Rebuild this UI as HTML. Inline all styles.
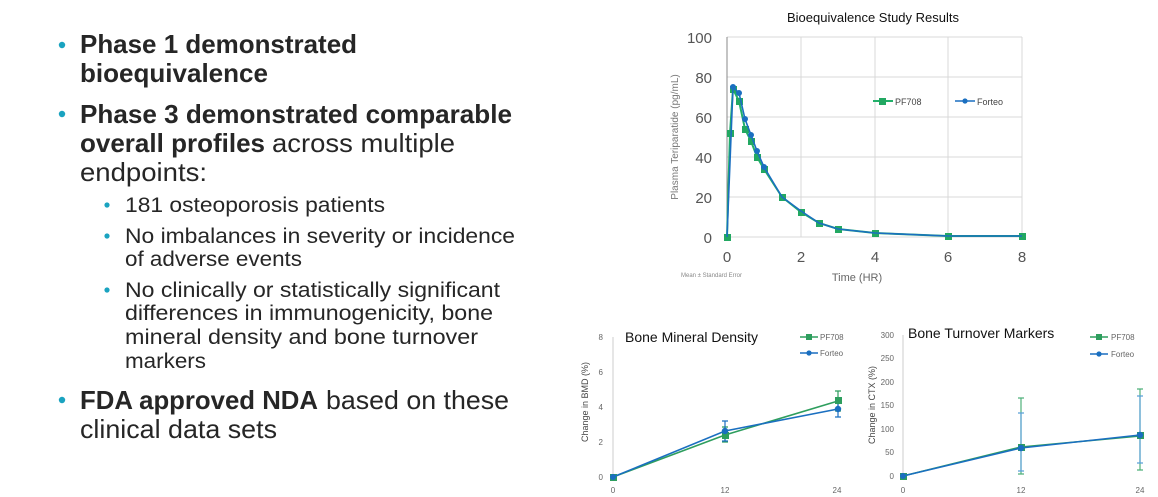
<!DOCTYPE html>
<html><head><meta charset="utf-8"><style>
html,body{margin:0;padding:0;background:#fff;}
svg{display:block;font-family:"Liberation Sans",sans-serif;}
</style></head><body>
<svg width="1158" height="497" viewBox="0 0 1158 497" xmlns="http://www.w3.org/2000/svg">
<g fill="#262626">
<g fill="#1aa3c0"><circle cx="62" cy="45" r="3.2"/><circle cx="62" cy="114" r="3.2"/><circle cx="62" cy="400" r="3.2"/>
<circle cx="107" cy="205" r="2.6"/><circle cx="107" cy="236" r="2.6"/><circle cx="107" cy="290" r="2.6"/></g>
<text x="80" y="53" font-size="26" font-weight="bold" textLength="277" lengthAdjust="spacingAndGlyphs">Phase 1 demonstrated</text>
<text x="80" y="82" font-size="26" font-weight="bold" textLength="188" lengthAdjust="spacingAndGlyphs">bioequivalence</text>
<text x="80" y="123" font-size="26" font-weight="bold" textLength="432" lengthAdjust="spacingAndGlyphs">Phase 3 demonstrated comparable</text>
<text x="80" y="152" font-size="26" font-weight="bold" textLength="185" lengthAdjust="spacingAndGlyphs">overall profiles</text>
<text x="272" y="152" font-size="26" textLength="183" lengthAdjust="spacingAndGlyphs">across multiple</text>
<text x="80" y="181" font-size="26" textLength="127" lengthAdjust="spacingAndGlyphs">endpoints:</text>
<text x="125" y="212" font-size="21" textLength="260" lengthAdjust="spacingAndGlyphs">181 osteoporosis patients</text>
<text x="125" y="243" font-size="21" textLength="390" lengthAdjust="spacingAndGlyphs">No imbalances in severity or incidence</text>
<text x="125" y="266" font-size="21" textLength="177" lengthAdjust="spacingAndGlyphs">of adverse events</text>
<text x="125" y="297" font-size="21" textLength="375" lengthAdjust="spacingAndGlyphs">No clinically or statistically significant</text>
<text x="125" y="320" font-size="21" textLength="368" lengthAdjust="spacingAndGlyphs">differences in immunogenicity, bone</text>
<text x="125" y="344" font-size="21" textLength="353" lengthAdjust="spacingAndGlyphs">mineral density and bone turnover</text>
<text x="125" y="368" font-size="21" textLength="81" lengthAdjust="spacingAndGlyphs">markers</text>
<text x="80" y="409" font-size="26" font-weight="bold" textLength="238" lengthAdjust="spacingAndGlyphs">FDA approved NDA</text>
<text x="326" y="409" font-size="26" textLength="183" lengthAdjust="spacingAndGlyphs">based on these</text>
<text x="80" y="438" font-size="26" textLength="197" lengthAdjust="spacingAndGlyphs">clinical data sets</text>
</g>

<!-- Top chart -->
<text x="873" y="22" font-size="13" fill="#111" text-anchor="middle">Bioequivalence Study Results</text>
<g stroke="#d9d9d9" stroke-width="1">
<line x1="727" y1="37" x2="1022" y2="37"/><line x1="727" y1="77" x2="1022" y2="77"/><line x1="727" y1="117" x2="1022" y2="117"/>
<line x1="727" y1="157" x2="1022" y2="157"/><line x1="727" y1="197" x2="1022" y2="197"/><line x1="727" y1="237" x2="1022" y2="237"/>
<line x1="801" y1="37" x2="801" y2="237"/><line x1="875" y1="37" x2="875" y2="237"/><line x1="948" y1="37" x2="948" y2="237"/><line x1="1022" y1="37" x2="1022" y2="237"/>
</g>
<line x1="727" y1="37" x2="727" y2="237" stroke="#888"/>
<g font-size="15" fill="#555" text-anchor="end">
<text x="712" y="43">100</text><text x="712" y="83">80</text><text x="712" y="123">60</text><text x="712" y="163">40</text><text x="712" y="203">20</text><text x="712" y="243">0</text></g>
<g font-size="15" fill="#555" text-anchor="middle">
<text x="727" y="262">0</text><text x="801" y="262">2</text><text x="875" y="262">4</text><text x="948" y="262">6</text><text x="1022" y="262">8</text></g>
<text x="857" y="281" font-size="11" fill="#666" text-anchor="middle">Time (HR)</text>
<text x="681" y="277" font-size="6" fill="#888">Mean ± Standard Error</text>
<text transform="translate(678,137) rotate(-90)" font-size="10" fill="#777" text-anchor="middle">Plasma Teriparatide (pg/mL)</text>
<polyline fill="none" stroke="#22b06a" stroke-width="2" points="727,237 730,133 733,89 739,101 745,129 751,141 757,157 764,169 782,197 801,212 819,223 838,229 875,233 948,236 1022,236"/>
<g fill="#22a862"><rect x="724" y="234" width="7" height="7"/><rect x="727" y="130" width="7" height="7"/><rect x="730" y="86" width="7" height="7"/><rect x="736" y="98" width="7" height="7"/><rect x="742" y="126" width="7" height="7"/><rect x="748" y="138" width="7" height="7"/><rect x="754" y="154" width="7" height="7"/><rect x="761" y="166" width="7" height="7"/><rect x="779" y="194" width="7" height="7"/><rect x="798" y="209" width="7" height="7"/><rect x="816" y="220" width="7" height="7"/><rect x="835" y="226" width="7" height="7"/><rect x="872" y="230" width="7" height="7"/><rect x="945" y="233" width="7" height="7"/><rect x="1019" y="233" width="7" height="7"/></g>
<polyline fill="none" stroke="#1a6fc0" stroke-width="1.6" points="727,237 733,87 739,93 745,119 751,135 757,151 764,167 782,197 801,211 819,223 838,229 875,233 948,236 1022,236"/>
<g fill="#1a6fc0"><circle cx="733" cy="87" r="3"/><circle cx="739" cy="93" r="3"/><circle cx="745" cy="119" r="3"/><circle cx="751" cy="135" r="3"/><circle cx="757" cy="151" r="3"/><circle cx="764" cy="167" r="3"/></g>
<line x1="873" y1="101" x2="893" y2="101" stroke="#22b06a" stroke-width="2"/><rect x="879" y="98" width="7" height="7" fill="#22a862"/>
<text x="895" y="105" font-size="9" fill="#444">PF708</text>
<line x1="955" y1="101" x2="975" y2="101" stroke="#1a6fc0" stroke-width="1.6"/><circle cx="965" cy="101" r="2.6" fill="#1a6fc0"/>
<text x="977" y="105" font-size="9" fill="#444">Forteo</text>

<!-- BMD -->
<line x1="613" y1="337" x2="613" y2="477" stroke="#ccc"/>
<g font-size="8" fill="#666" text-anchor="end"><text x="603" y="340">8</text><text x="603" y="375">6</text><text x="603" y="410">4</text><text x="603" y="445">2</text><text x="603" y="480">0</text></g>
<g font-size="8" fill="#666" text-anchor="middle"><text x="613" y="493">0</text><text x="725" y="493">12</text><text x="837" y="493">24</text></g>
<text transform="translate(588,402) rotate(-90)" font-size="9" fill="#444" text-anchor="middle">Change in BMD (%)</text>
<text x="625" y="342" font-size="14" fill="#111">Bone Mineral Density</text>
<g stroke-width="1.2"><path d="M725 442V427M722 442h6M722 427h6M838 411V391M835 411h6M835 391h6" stroke="#2e9e5e"/><path d="M725 441V421M722 441h6M722 421h6M838 417V402M835 417h6M835 402h6" stroke="#1a6fc0"/></g>
<polyline fill="none" stroke="#2e9e5e" stroke-width="1.6" points="613,477 725,435 838,401"/>
<g fill="#2e9e5e"><rect x="610" y="474" width="7" height="7"/><rect x="722" y="432" width="7" height="7"/><rect x="835" y="397" width="7" height="7"/></g>
<polyline fill="none" stroke="#1a6fc0" stroke-width="1.6" points="613,477 725,431 838,409"/>
<g fill="#1a6fc0"><circle cx="613" cy="477" r="3"/><circle cx="725" cy="431" r="3.2"/><circle cx="838" cy="409" r="3.2"/></g>
<line x1="800" y1="337" x2="818" y2="337" stroke="#2e9e5e" stroke-width="1.6"/><rect x="806" y="334" width="6" height="6" fill="#2e9e5e"/>
<text x="820" y="340" font-size="8" fill="#666">PF708</text>
<line x1="800" y1="353" x2="818" y2="353" stroke="#1a6fc0" stroke-width="1.6"/><circle cx="809" cy="353" r="2.6" fill="#1a6fc0"/>
<text x="820" y="356" font-size="8" fill="#666">Forteo</text>

<!-- CTX -->
<line x1="903" y1="335" x2="903" y2="476" stroke="#ccc"/>
<g font-size="8" fill="#666" text-anchor="end"><text x="894" y="338">300</text><text x="894" y="361">250</text><text x="894" y="385">200</text><text x="894" y="408">150</text><text x="894" y="432">100</text><text x="894" y="455">50</text><text x="894" y="479">0</text></g>
<g font-size="8" fill="#666" text-anchor="middle"><text x="903" y="493">0</text><text x="1021" y="493">12</text><text x="1140" y="493">24</text></g>
<text transform="translate(875,405) rotate(-90)" font-size="9" fill="#444" text-anchor="middle">Change in CTX (%)</text>
<text x="908" y="338" font-size="14" fill="#111">Bone Turnover Markers</text>
<g stroke-width="1.2"><path d="M1021 474V398M1018 474h6M1018 398h6M1140 470V389M1137 470h6M1137 389h6" stroke="#4fb07a"/><path d="M1021 471V413M1018 471h6M1018 413h6M1140 463V396M1137 463h6M1137 396h6" stroke="#5aa0d8"/></g>
<polyline fill="none" stroke="#2e9e5e" stroke-width="1.6" points="903,476 1021,447 1140,436"/>
<g fill="#2e9e5e"><rect x="900" y="473" width="7" height="7"/><rect x="1018" y="444" width="7" height="7"/><rect x="1137" y="432" width="7" height="7"/></g>
<polyline fill="none" stroke="#1a6fc0" stroke-width="1.6" points="903,476 1021,448 1140,435"/>
<g fill="#1a6fc0"><circle cx="903" cy="476" r="3"/><circle cx="1021" cy="448" r="3.2"/><circle cx="1140" cy="435" r="3.2"/></g>
<line x1="1090" y1="337" x2="1108" y2="337" stroke="#2e9e5e" stroke-width="1.6"/><rect x="1096" y="334" width="6" height="6" fill="#2e9e5e"/>
<text x="1111" y="340" font-size="8" fill="#666">PF708</text>
<line x1="1090" y1="354" x2="1108" y2="354" stroke="#1a6fc0" stroke-width="1.6"/><circle cx="1099" cy="354" r="2.6" fill="#1a6fc0"/>
<text x="1111" y="357" font-size="8" fill="#666">Forteo</text>
</svg>
</body></html>
